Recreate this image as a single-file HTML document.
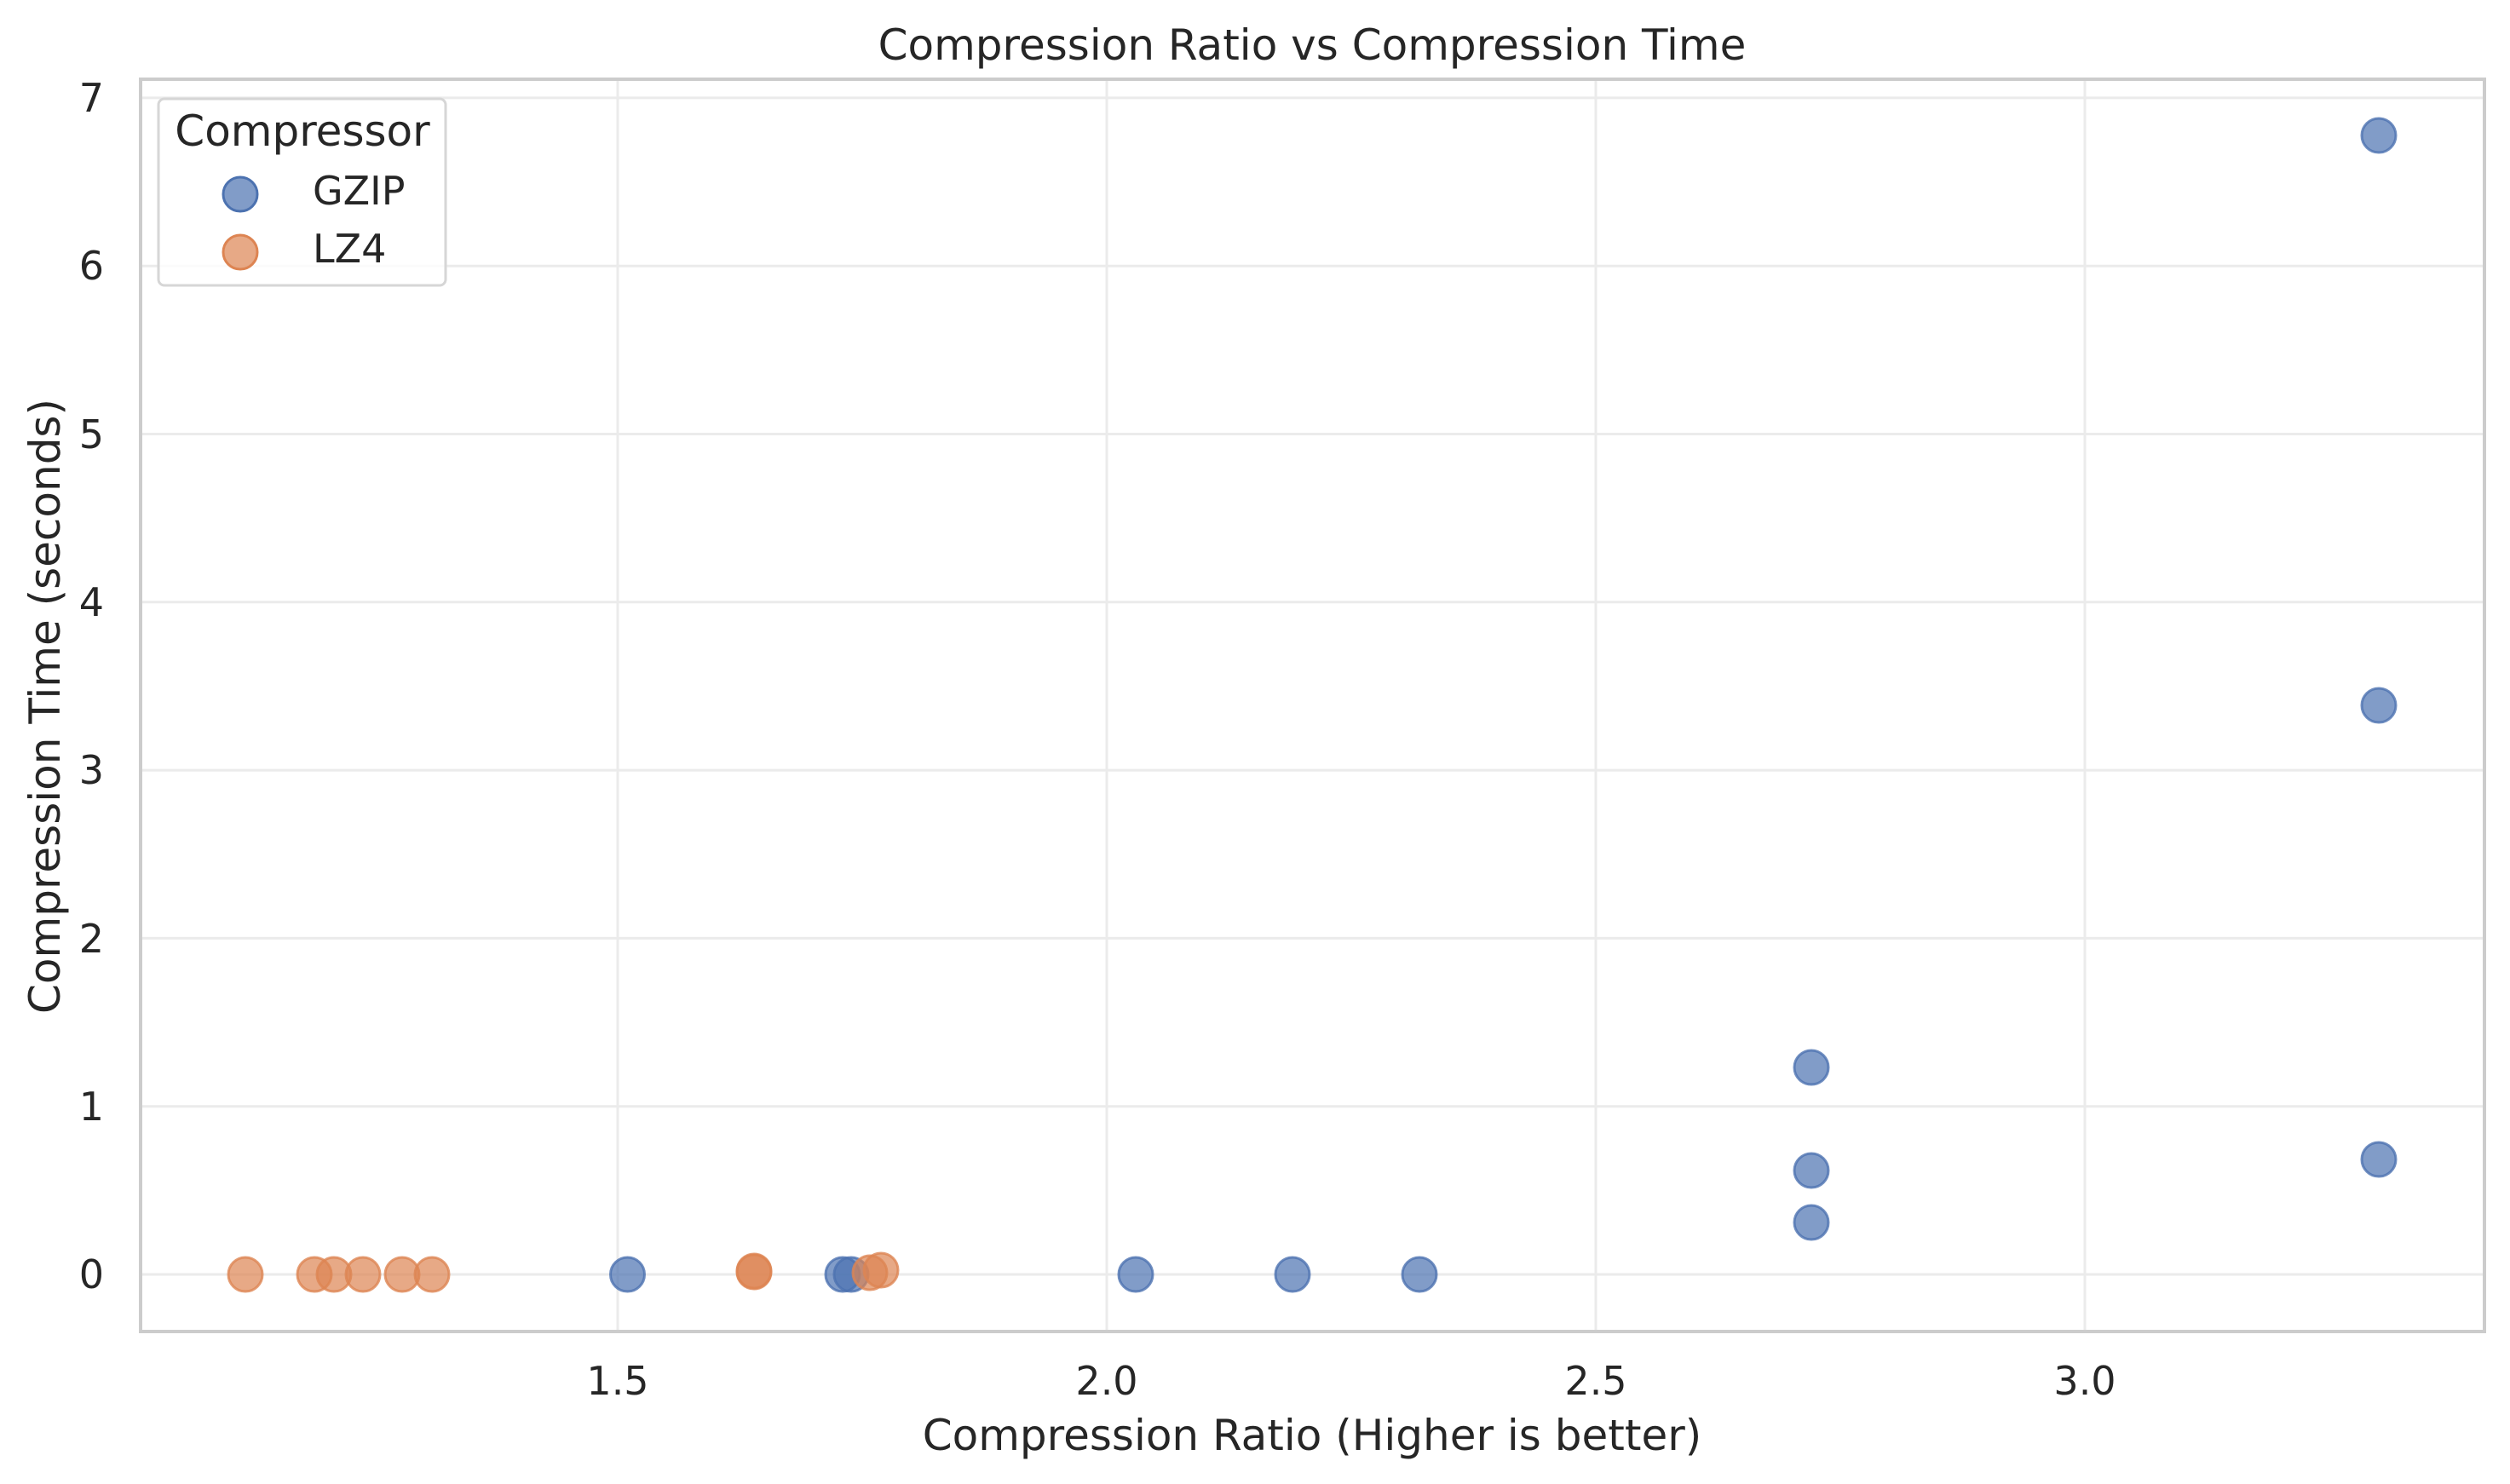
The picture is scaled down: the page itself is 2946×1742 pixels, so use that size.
<!DOCTYPE html>
<html><head><meta charset="utf-8"><style>html,body{margin:0;padding:0;background:#fff}svg{display:block}</style></head>
<body>
<svg width="2946" height="1742" viewBox="0 0 2946 1742" xmlns="http://www.w3.org/2000/svg" font-family="'DejaVu Sans','Liberation Sans',sans-serif" fill="#262626">
<rect width="2946" height="1742" fill="#fff"/>
<g stroke="#ebebeb" stroke-width="3">
<line x1="165" x2="2916" y1="1496" y2="1496"/>
<line x1="165" x2="2916" y1="1298.7" y2="1298.7"/>
<line x1="165" x2="2916" y1="1101.4" y2="1101.4"/>
<line x1="165" x2="2916" y1="904.1" y2="904.1"/>
<line x1="165" x2="2916" y1="706.8" y2="706.8"/>
<line x1="165" x2="2916" y1="509.5" y2="509.5"/>
<line x1="165" x2="2916" y1="312.2" y2="312.2"/>
<line x1="165" x2="2916" y1="114.9" y2="114.9"/>
<line x1="725" x2="725" y1="93" y2="1563"/>
<line x1="1299" x2="1299" y1="93" y2="1563"/>
<line x1="1873" x2="1873" y1="93" y2="1563"/>
<line x1="2447" x2="2447" y1="93" y2="1563"/>
</g>
<rect x="165" y="93" width="2751" height="1470" fill="none" stroke="#cccccc" stroke-width="4"/>
<g font-size="46" text-anchor="end">
<text x="122" y="1512">0</text>
<text x="122" y="1315">1</text>
<text x="122" y="1118">2</text>
<text x="122" y="920">3</text>
<text x="122" y="723">4</text>
<text x="122" y="526">5</text>
<text x="122" y="328">6</text>
<text x="122" y="131">7</text>
</g>
<g font-size="46" text-anchor="middle">
<text x="725" y="1637">1.5</text>
<text x="1299" y="1637">2.0</text>
<text x="1873" y="1637">2.5</text>
<text x="2447" y="1637">3.0</text>
</g>
<text x="1540" y="1702" font-size="50" text-anchor="middle">Compression Ratio (Higher is better)</text>
<text transform="translate(70,829) rotate(-90)" font-size="50" text-anchor="middle">Compression Time (seconds)</text>
<text x="1540" y="70" font-size="50" text-anchor="middle">Compression Ratio vs Compression Time</text>
<g fill="#4c72b0" fill-opacity="0.7" stroke="#4c72b0" stroke-opacity="0.8" stroke-width="3">
<circle cx="736.5" cy="1496" r="20"/>
<circle cx="989" cy="1496" r="20"/>
<circle cx="999" cy="1496" r="20"/>
<circle cx="1333" cy="1496" r="20"/>
<circle cx="1517" cy="1496" r="20"/>
<circle cx="1666" cy="1496" r="20"/>
<circle cx="2126" cy="1253" r="20"/>
<circle cx="2126" cy="1374" r="20"/>
<circle cx="2126" cy="1435" r="20"/>
<circle cx="2792" cy="159" r="20"/>
<circle cx="2792" cy="828" r="20"/>
<circle cx="2792" cy="1361" r="20"/>
</g>
<g fill="#dd8452" fill-opacity="0.7" stroke="#dd8452" stroke-opacity="0.8" stroke-width="3">
<circle cx="288" cy="1496" r="20"/>
<circle cx="369" cy="1496" r="20"/>
<circle cx="392" cy="1496" r="20"/>
<circle cx="426" cy="1496" r="20"/>
<circle cx="472" cy="1496" r="20"/>
<circle cx="507" cy="1496" r="20"/>
<circle cx="885" cy="1493" r="20"/>
<circle cx="885" cy="1492" r="20"/>
<circle cx="1021" cy="1494" r="20"/>
<circle cx="1034" cy="1491" r="20"/>
</g>
<rect x="186" y="116" width="337" height="219" rx="7" fill="#fff" fill-opacity="0.8" stroke="#d6d6d6" stroke-width="3"/>
<text x="355" y="171" font-size="50" text-anchor="middle">Compressor</text>
<circle cx="282" cy="228" r="20" fill="#4c72b0" fill-opacity="0.7" stroke="#4c72b0" stroke-width="3"/>
<circle cx="282" cy="296" r="20" fill="#dd8452" fill-opacity="0.7" stroke="#dd8452" stroke-width="3"/>
<text x="367" y="240" font-size="46">GZIP</text>
<text x="367" y="308" font-size="46">LZ4</text>
</svg>
</body></html>
